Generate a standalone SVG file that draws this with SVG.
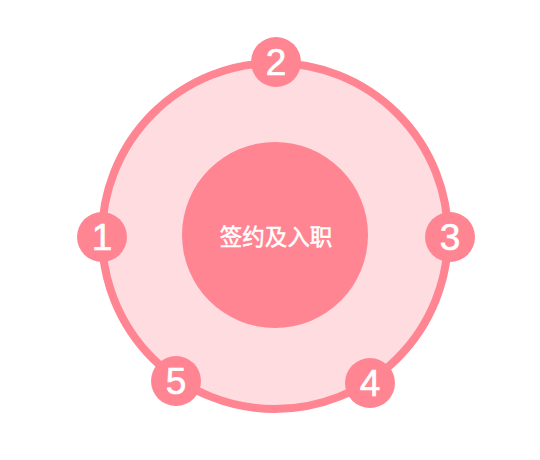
<svg xmlns="http://www.w3.org/2000/svg" width="540" height="460" viewBox="0 0 540 460">
<style>
.num{fill:#ff8592}
.nt{font-family:"Liberation Sans",Arial,sans-serif;font-size:37px;fill:#fff;stroke:#fff;stroke-width:0.6;text-anchor:middle}
.ct{font-family:"Noto Sans CJK SC",sans-serif;font-size:22.5px;fill:#fff;stroke:#fff;stroke-width:0.5;text-anchor:middle}
</style>
<rect width="540" height="460" fill="#fff"/>
<g id="connectors">
<circle cx="275" cy="236" r="173" fill="#ffdce0" stroke="#ff8592" stroke-width="8"/>
</g>
<g id="center">
<circle cx="275" cy="235" r="93" fill="#ff8592"/>
<text class="ct" x="276" y="245">签约及入职</text>
</g>
<g id="n1"><circle class="num" cx="102" cy="237" r="25"/><text class="nt" x="102" y="250">1</text></g>
<g id="n2"><circle class="num" cx="276" cy="62" r="25"/><text class="nt" x="276" y="75">2</text></g>
<g id="n3"><circle class="num" cx="450" cy="237" r="25"/><text class="nt" x="450" y="250">3</text></g>
<g id="n4"><circle class="num" cx="370" cy="383" r="25"/><text class="nt" x="370" y="396">4</text></g>
<g id="n5"><circle class="num" cx="176" cy="381" r="25"/><text class="nt" x="176" y="394">5</text></g>
</svg>
